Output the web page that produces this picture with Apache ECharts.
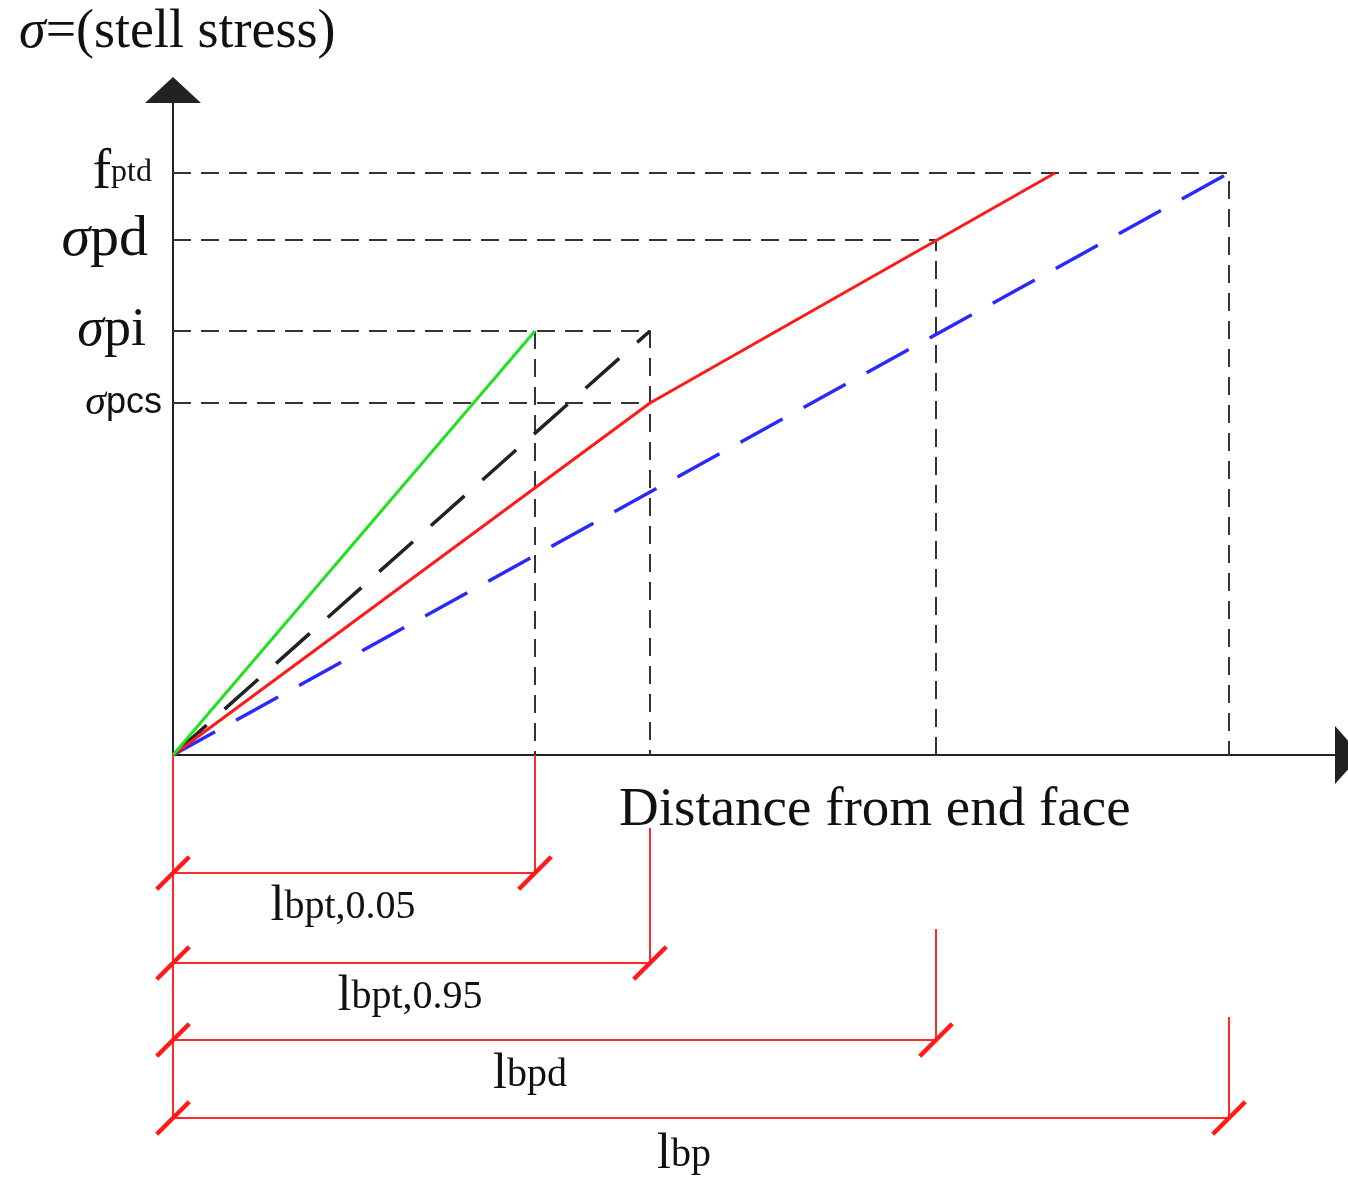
<!DOCTYPE html>
<html>
<head>
<meta charset="utf-8">
<script src="https://cdn.jsdelivr.net/npm/echarts@6/dist/echarts.min.js"></script>
<style>
html,body{margin:0;padding:0;background:#fff;}
#chart{width:1348px;height:1177px;}
</style>
</head>
<body>
<div id="chart"></div>
<script>
// stress levels on the y axis (px above the origin)
var stressNames = ['σpcs', 'σpi', 'σpd', 'fptd'];
var stressLevels = [352, 424, 515, 582];
// transfer / anchorage lengths on the x axis
var lenNames = ['lbpt,0.05', 'lbpt,0.95', 'lbpd', 'lbp'];
var lenValues = [362, 477, 763, 1056];
var redPeakX = 882;          // red curve reaches fptd here
// dimension rows below the axis: depth of each row, where its extension line starts
var dimRows = [118, 208, 285, 363];
var dimExtStart = [0, 73, 174, 262];
// label centre of each dimension text (x, depth)
var dimLabelX = [170, 237, 357, 511];
var dimLabelY = [152, 242, 320, 400];

var fPtd = stressLevels[3], sPd = stressLevels[2], sPi = stressLevels[1], sPcs = stressLevels[0];
var L005 = lenValues[0], L095 = lenValues[1], Lpd = lenValues[2], Lp = lenValues[3];

var guide = {color: '#333', width: 2, type: [18, 10]};
var redDim = '#ff2a2a';
var serif = 'Liberation Serif';

var series = [];
function addLine(pts, style, xi, z) {
    series.push({
        type: 'line', data: pts, xAxisIndex: xi || 0, yAxisIndex: xi || 0,
        showSymbol: false, symbol: 'none', clip: false, silent: true,
        lineStyle: style, z: z || 2, animation: false
    });
}

// dashed guide lines
addLine([[0, fPtd], [Lp, fPtd], [Lp, 0]], guide);
addLine([[0, sPd], [Lpd, sPd], [Lpd, 0]], guide);
addLine([[0, sPi], [L095, sPi], [L095, 0]], guide);
addLine([[L005, sPi], [L005, 0]], guide);
addLine([[0, sPcs], [L095, sPcs]], guide);

// stress curves
addLine([[0, 0], [Lp, fPtd]], {color: '#2a2aff', width: 3.5, type: [48, 24]}, 0, 5);
addLine([[0, 0], [L095, sPi]], {color: '#222', width: 3.5, type: [45, 24]}, 0, 5);
addLine([[0, 0], [L095, sPcs], [redPeakX, fPtd]], {color: '#ff1a1a', width: 3}, 0, 6);
addLine([[0, 0], [L005, sPi]], {color: '#22e022', width: 3}, 0, 6);

// dimension lines in the lower panel
addLine([[0, 0], [0, dimRows[3]]], {color: redDim, width: 2}, 1);
var ticks = [];
for (var i = 0; i < lenValues.length; i++) {
    addLine([[lenValues[i], dimExtStart[i]], [lenValues[i], dimRows[i]]], {color: redDim, width: 2}, 1);
    addLine([[0, dimRows[i]], [lenValues[i], dimRows[i]]], {color: redDim, width: 2}, 1);
    ticks.push([0, dimRows[i]]);
    ticks.push([lenValues[i], dimRows[i]]);
}
series.push({
    type: 'scatter', xAxisIndex: 1, yAxisIndex: 1, data: ticks, clip: false, silent: true,
    symbol: 'rect', symbolSize: [46, 4.5], symbolRotate: 45,
    itemStyle: {color: '#ff1a1a', opacity: 1}, z: 7, animation: false
});
var labelData = [];
for (var j = 0; j < lenNames.length; j++) {
    labelData.push({value: [dimLabelX[j], dimLabelY[j]], name: lenNames[j]});
}
series.push({
    type: 'scatter', xAxisIndex: 1, yAxisIndex: 1, data: labelData, clip: false, silent: true,
    symbolSize: 0, animation: false, itemStyle: {opacity: 1},
    label: {
        show: true, position: 'inside', color: '#111',
        formatter: function (p) { return '{l|l}{r|' + p.name.slice(1) + '}'; },
        rich: {
            l: {fontFamily: serif, fontSize: 50, color: '#111', verticalAlign: 'middle'},
            r: {fontFamily: serif, fontSize: 40, color: '#111', verticalAlign: 'middle'}
        }
    }
});

var yLabelRich = {
    f: {fontFamily: serif, fontSize: 56, color: '#111'},
    ptd: {fontFamily: serif, fontSize: 32, color: '#111', padding: [0, 11, 0, 0]},
    s1: {fontFamily: serif, fontStyle: 'italic', fontSize: 58, color: '#111'},
    pd: {fontFamily: serif, fontSize: 58, color: '#111', padding: [0, 15, 0, 0]},
    s2: {fontFamily: serif, fontStyle: 'italic', fontSize: 54, color: '#111'},
    pi: {fontFamily: serif, fontSize: 54, color: '#111', padding: [0, 17, 0, 0]},
    s3: {fontFamily: serif, fontStyle: 'italic', fontSize: 42, color: '#111'},
    pcs: {fontFamily: 'Liberation Sans', fontSize: 36, color: '#111', padding: [0, 1, 0, 0]}
};

var chart = echarts.init(document.getElementById('chart'));
chart.setOption({
    backgroundColor: '#fff',
    animation: false,
    title: [{
        text: '{s|σ}{t|=(stell stress)}',
        left: 14, top: 1,
        textStyle: {
            fontWeight: 'normal',
            rich: {
                s: {fontFamily: serif, fontStyle: 'italic', fontWeight: 'normal', fontSize: 54, color: '#111'},
                t: {fontFamily: serif, fontWeight: 'normal', fontSize: 54, color: '#111'}
            }
        }
    }, {
        text: 'Distance from end face',
        left: 614, top: 778,
        textStyle: {fontFamily: serif, fontSize: 55, fontWeight: 'normal', color: '#111'}
    }],
    grid: [
        {left: 173, right: 0, top: 90, bottom: 422},
        {left: 173, right: 0, top: 755, bottom: 0}
    ],
    xAxis: [{
        type: 'value', min: 0, max: 1175,
        axisLine: {show: true, symbol: ['none', 'triangle'], symbolSize: [58, 26],
            lineStyle: {color: '#222', width: 2}},
        axisTick: {show: false}, axisLabel: {show: false}, splitLine: {show: false}
    }, {
        type: 'value', min: 0, max: 1175, gridIndex: 1, show: false
    }],
    yAxis: [{
        type: 'value', min: 0, max: 665,
        axisLine: {show: true, symbol: ['none', 'triangle'], symbolSize: [56, 26],
            lineStyle: {color: '#222', width: 2}},
        axisTick: {show: false}, splitLine: {show: false},
        axisLabel: {
            show: true, margin: 10,
            customValues: stressLevels,
            formatter: function (v) {
                var k = stressLevels.indexOf(v);
                if (k === 3) return '{f|f}{ptd|ptd}';
                if (k === 2) return '{s1|σ}{pd|pd}';
                if (k === 1) return '{s2|σ}{pi|pi}';
                if (k === 0) return '{s3|σ}{pcs|pcs}';
                return '';
            },
            rich: yLabelRich
        }
    }, {
        type: 'value', min: 0, max: 422, inverse: true, gridIndex: 1, show: false
    }],
    series: series
});
</script>
</body>
</html>
